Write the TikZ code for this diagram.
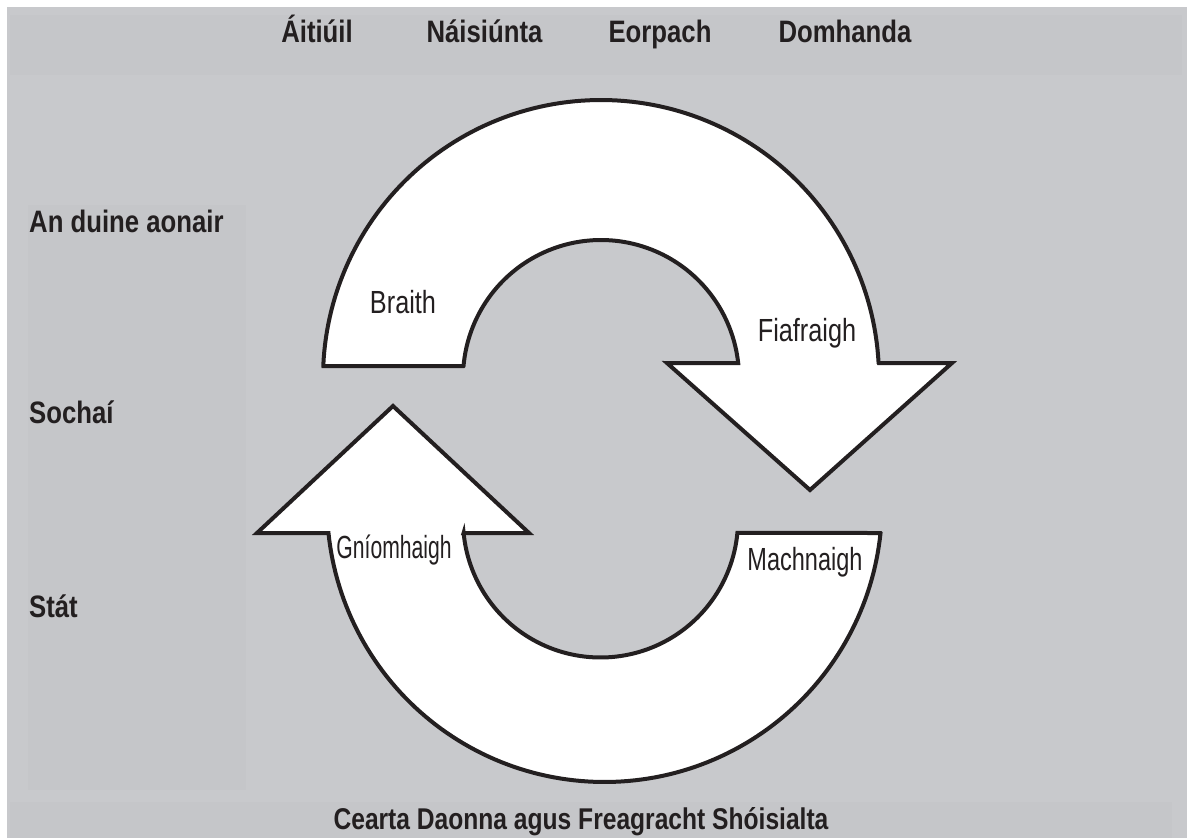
\documentclass[tikz,border=0pt]{standalone}
\usepackage{fontspec}
\setmainfont{Liberation Sans}
\newfontfamily\boldlab[FakeStretch=0.83]{Liberation Sans Bold}
\newfontfamily\footlab[FakeStretch=0.82]{Liberation Sans Bold}
\newfontfamily\lightlab[FakeStretch=0.79]{Liberation Sans}
\newfontfamily\machlab[FakeStretch=0.735]{Liberation Sans}
\newfontfamily\gniolab[FakeStretch=0.66]{Liberation Sans}
\definecolor{ink}{HTML}{231F20}
\definecolor{bggrey}{RGB}{200,201,204}
\definecolor{bandgrey}{RGB}{197,198,201}
\begin{document}
\begin{tikzpicture}[x=1pt,y=-1pt,
  cycleshape/.style={fill=white,draw=ink,line width=4pt,line join=miter,miter limit=10},
  headlabel/.style={inner sep=0pt,text=ink,anchor=base,font=\boldlab\fontsize{31}{36}\selectfont},
  rowlabel/.style={inner sep=0pt,text=ink,anchor=base west,font=\boldlab\fontsize{31}{36}\selectfont},
  footlabel/.style={inner sep=0pt,text=ink,anchor=base,font=\footlab\fontsize{30}{36}\selectfont},
  steplabel/.style={inner sep=0pt,text=ink,anchor=base,font=\lightlab\fontsize{32}{36}\selectfont},
  machlabel/.style={inner sep=0pt,text=ink,anchor=base,font=\machlab\fontsize{32}{36}\selectfont},
  gniolabel/.style={inner sep=0pt,text=ink,anchor=base,font=\gniolab\fontsize{32}{36}\selectfont}]
\useasboundingbox (0,0) rectangle (1187,838);
\fill[white] (0,0) rectangle (1187,838);
\fill[bggrey] (7,7) rectangle (1187,838);
\fill[bandgrey] (10,15) rectangle (1182,75);
\fill[bandgrey] (28,205) rectangle (246,790);
\fill[bandgrey] (10,802) rectangle (1172,838);

% upper arc arrow (pointing down on the right)
\draw[cycleshape] (323.3,366) -- (463.5,366)
  -- plot[domain=185:353.8,samples=90] ({601+138*cos(\x)},{378+138*sin(\x)})
  -- (667,363) -- (810,490) -- (952,363) -- (878.6,363)
  -- plot[domain=356.9:182.5,samples=120] ({601+278*cos(\x)},{378+278*sin(\x)})
  -- cycle;

% lower arc arrow (pointing up on the left)
\draw[cycleshape] (529,533) -- (463.6,533)
  -- plot[domain=174.6:5.4,samples=90] ({600.5+137.5*cos(\x)},{520+137.5*sin(\x)})
  -- (880.5,533)
  -- plot[domain=5.9:174.1,samples=120] ({604.5+277.5*cos(\x)},{504.5+277.5*sin(\x)})
  -- (257,533) -- (393,406) -- cycle;

% column headings
\node[headlabel] (aitiuil) at (317,42) {Áitiúil};
\node[headlabel] (naisiunta) at (484.5,42) {Náisiúnta};
\node[headlabel] (eorpach) at (660,42) {Eorpach};
\node[headlabel] (domhanda) at (845,42) {Domhanda};

% row headings
\node[rowlabel] (duine) at (29,232) {An duine aonair};
\node[rowlabel] (sochai) at (29,423) {Sochaí};
\node[rowlabel] (stat) at (29,617) {Stát};

% cycle steps
\node[steplabel] (braith) at (403,313) {Braith};
\node[steplabel] (fiafraigh) at (807,341) {Fiafraigh};
\node[machlabel] (machnaigh) at (805,570) {Machnaigh};
\node[gniolabel] (gniomhaigh) at (394,558) {Gníomhaigh};

% footer
\node[footlabel] (cearta) at (581,829) {Cearta Daonna agus Freagracht Shóisialta};
\end{tikzpicture}
\end{document}
